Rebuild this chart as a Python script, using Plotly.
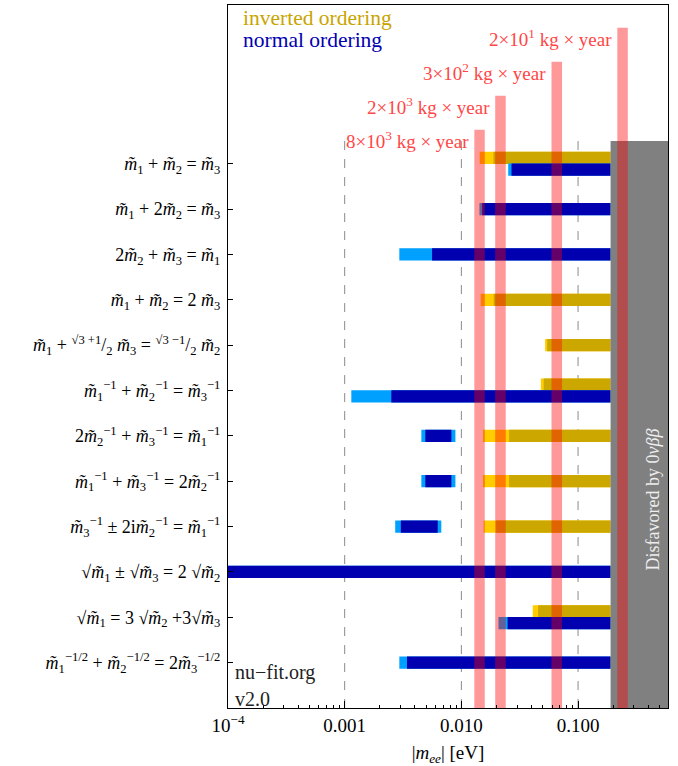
import math
import plotly.graph_objects as go

M = "<i>m\u0303</i>"
def m(i, p=None):
    s = f"{M}<sub>{i}</sub>"
    if p:
        s += f"<sup>{p}</sup>"
    return s

labels = [
    f"{m(1)} + {m(2)} = {m(3)}",
    f"{m(1)} + 2{m(2)} = {m(3)}",
    f"2{m(2)} + {m(3)} = {m(1)}",
    f"{m(1)} + {m(2)} = 2 {m(3)}",
    f"{m(1)} + <sup>√3 +1</sup>/<sub>2</sub> {m(3)} = <sup>√3 −1</sup>/<sub>2</sub> {m(2)}",
    f"{m(1,'−1')} + {m(2,'−1')} = {m(3,'−1')}",
    f"2{m(2,'−1')} + {m(3,'−1')} = {m(1,'−1')}",
    f"{m(1,'−1')} + {m(3,'−1')} = 2{m(2,'−1')}",
    f"{m(3,'−1')} ± 2i{m(2,'−1')} = {m(1,'−1')}",
    f"√{m(1)} ± √{m(3)} = 2 √{m(2)}",
    f"√{m(1)} = 3 √{m(2)} +3√{m(3)}",
    f"{m(1,'−1/2')} + {m(2,'−1/2')} = 2{m(3,'−1/2')}",
]

# normal ordering: wide (light) and narrow (dark) ranges of |m_ee| [eV]
no_light_lo = [0.0252, 0.01429, 0.00294, None, None, 0.00114, 0.00454, 0.00454, 0.00271, 1e-5, 0.0208, 0.00294]
no_light_hi = [0.19, 0.19, 0.19, None, None, 0.19, 0.00889, 0.00889, 0.00673, 0.19, 0.19, 0.19]
no_dark_lo = [0.0269, 0.01507, 0.00561, None, None, 0.00251, 0.00491, 0.00491, 0.00303, 1e-5, 0.0249, 0.00342]
no_dark_hi = [0.19, 0.19, 0.19, None, None, 0.19, 0.00821, 0.00821, 0.00627, 0.19, 0.19, 0.19]
# inverted ordering
io_light_lo = [0.01436, None, None, 0.01465, 0.0522, 0.0480, 0.01535, 0.01535, 0.01552, None, 0.0409, None]
io_light_hi = [0.19, None, None, 0.19, 0.19, 0.19, 0.19, 0.19, 0.19, None, 0.19, None]
io_dark_lo = [0.01884, None, None, 0.01892, 0.0544, 0.0508, 0.02566, 0.02566, 0.01987, None, 0.0455, None]
io_dark_hi = [0.19, None, None, 0.19, 0.19, 0.19, 0.19, 0.19, 0.19, None, 0.19, None]

# 0vbb bound
disfavored_lo = 0.19
disfavored_hi = 1.0

# experimental sensitivities
exposure_labels = ["8×10<sup>3</sup> kg × year", "2×10<sup>3</sup> kg × year",
                   "3×10<sup>2</sup> kg × year", "2×10<sup>1</sup> kg × year"]
sens_lo = [0.01291, 0.0195, 0.0592, 0.217]
sens_hi = [0.01587, 0.0240, 0.0729, 0.267]

grid_vals = [0.001, 0.01, 0.1]
tick_vals = [1e-4, 1e-3, 1e-2, 1e-1]
tick_text = ["10<sup>−4</sup>", "0.001", "0.010", "0.100"]

FONT = "Liberation Serif"
HALF = 0.135
OFF = 0.13
BOTTOM = 13.0
TOP = -2.5
BAND_TOP = 0.5
sens_tops = [0.25, -0.5, -1.25, -2.0]

rows = list(range(1, len(labels) + 1))

def rect_trace(x0s, x1s, ys, color):
    xs, yv = [], []
    for a, b, yc in zip(x0s, x1s, ys):
        if a is None:
            continue
        xs += [a, b, b, a, a, None]
        yv += [yc - HALF, yc - HALF, yc + HALF, yc + HALF, yc - HALF, None]
    return go.Scatter(x=xs, y=yv, mode="lines", fill="toself", fillcolor=color,
                      line=dict(width=0), hoverinfo="skip", showlegend=False)

no_y, io_y = [], []
for i, r in enumerate(rows):
    has_no = no_light_lo[i] is not None
    has_io = io_light_lo[i] is not None
    overlap = has_no and has_io and not (no_light_hi[i] < io_light_lo[i] or io_light_hi[i] < no_light_lo[i])
    no_y.append(r + OFF if overlap else r)
    io_y.append(r - OFF if overlap else r)

fig = go.Figure()
# dashed reference lines
for g in grid_vals:
    fig.add_trace(go.Scatter(x=[g, g], y=[BAND_TOP, BOTTOM], mode="lines",
                             line=dict(color="#8a8a8a", width=1, dash="dash"),
                             hoverinfo="skip", showlegend=False))

fig.add_trace(rect_trace(io_light_lo, io_light_hi, io_y, "#ffcc00"))
fig.add_trace(rect_trace(io_dark_lo, io_dark_hi, io_y, "#cca700"))
fig.add_trace(rect_trace(no_light_lo, no_light_hi, no_y, "#00a0ff"))
fig.add_trace(rect_trace(no_dark_lo, no_dark_hi, no_y, "#0000b0"))

# disfavored band
fig.add_trace(go.Scatter(x=[disfavored_lo, disfavored_hi, disfavored_hi, disfavored_lo, disfavored_lo],
                         y=[BAND_TOP, BAND_TOP, BOTTOM, BOTTOM, BAND_TOP], mode="lines",
                         fill="toself", fillcolor="#808080", line=dict(width=0),
                         hoverinfo="skip", showlegend=False))

# sensitivity bars
xs, yv = [], []
for a, b, t in zip(sens_lo, sens_hi, sens_tops):
    xs += [a, b, b, a, a, None]
    yv += [t, t, BOTTOM, BOTTOM, t, None]
fig.add_trace(go.Scatter(x=xs, y=yv, mode="lines", fill="toself",
                         fillcolor="rgba(255,0,0,0.4)", line=dict(width=0),
                         hoverinfo="skip", showlegend=False))

ann = []
for lab, a, t in zip(exposure_labels, sens_lo, sens_tops):
    ann.append(dict(x=math.log10(a), y=t, xref="x", yref="y", text=lab, showarrow=False,
                    xanchor="right", yanchor="top", xshift=-3, yshift=4,
                    font=dict(family=FONT, size=19, color="#ff4646")))
ann.append(dict(x=0.03, y=0.981, xref="paper", yref="paper", text="inverted ordering",
                showarrow=False, xanchor="left", yanchor="middle",
                font=dict(family=FONT, size=21.5, color="#c9a400")))
ann.append(dict(x=0.03, y=0.950, xref="paper", yref="paper", text="normal ordering",
                showarrow=False, xanchor="left", yanchor="middle",
                font=dict(family=FONT, size=21.5, color="#0000b0")))
ann.append(dict(x=0.012, y=0.05, xref="paper", yref="paper", text="nu−fit.org",
                showarrow=False, xanchor="left", yanchor="middle",
                font=dict(family=FONT, size=20, color="#222")))
ann.append(dict(x=0.012, y=0.013, xref="paper", yref="paper", text="v2.0",
                showarrow=False, xanchor="left", yanchor="middle",
                font=dict(family=FONT, size=20, color="#222")))
ann.append(dict(x=0.966, y=(BAND_TOP + BOTTOM) / 2 + 1.65, xref="paper", yref="y",
                text="Disfavored by 0<i>νββ</i>", textangle=-90, showarrow=False,
                xanchor="center", yanchor="middle",
                font=dict(family=FONT, size=18, color="#eeeeee")))

minor_vals = [k * 10 ** e for e in range(-4, 0) for k in range(2, 10)]

fig.update_layout(
    width=678, height=766,
    margin=dict(l=228, r=10, t=5, b=58),
    paper_bgcolor="white", plot_bgcolor="white",
    font=dict(family=FONT, size=16, color="black"),
    annotations=ann,
    xaxis=dict(type="log", range=[-4, math.log10(0.59)], tickmode="array",
               tickvals=tick_vals, ticktext=tick_text, ticks="inside", ticklen=7,
               tickcolor="black", showgrid=False, zeroline=False, showline=True,
               mirror=True, linecolor="black", linewidth=1,
               tickfont=dict(family=FONT, size=19),
               minor=dict(tickmode="array", tickvals=minor_vals, ticks="inside",
                          ticklen=3, tickcolor="black", showgrid=False),
               title=dict(text="|<i>m<sub>ee</sub></i>| [eV]", font=dict(family=FONT, size=19),
                          standoff=12)),
    yaxis=dict(range=[BOTTOM, TOP], tickmode="array", tickvals=rows, ticktext=labels,
               ticks="inside", ticklen=5, tickcolor="black", showgrid=False,
               zeroline=False, showline=True, mirror=True, linecolor="black",
               linewidth=1, tickfont=dict(family=FONT, size=18), ticklabelstandoff=3),
)

fig.write_html("out.html", config={"displayModeBar": False},
               post_script="document.body.style.margin='0px';")
